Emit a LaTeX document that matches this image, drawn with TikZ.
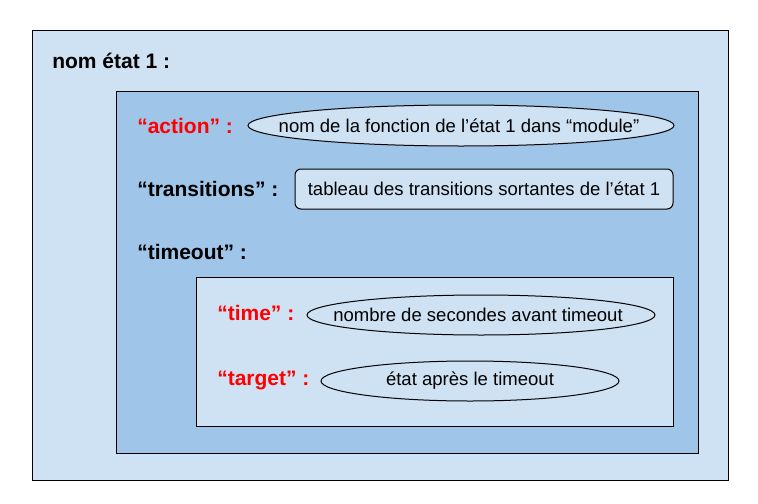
\documentclass[tikz,border=0pt]{standalone}
\usepackage{fontspec}
\setmainfont{Liberation Sans}
\usetikzlibrary{shapes.geometric}
\definecolor{lightb}{HTML}{CFE2F3}
\definecolor{midb}{HTML}{9FC5E8}
\definecolor{redlab}{HTML}{FF0000}
\tikzset{
  box/.style={draw=black, line width=0.75pt, rectangle, inner sep=0pt},
  oval/.style={draw=black, line width=0.75pt, ellipse, fill=lightb, inner sep=0pt},
  rbox/.style={draw=black, line width=0.75pt, rectangle, rounded corners=4.5pt, fill=lightb, inner sep=0pt},
  keylab/.style={anchor=west, inner sep=0pt, font=\fontsize{15.75}{18}\selectfont\bfseries},
  redlab/.style={keylab, text=redlab},
  valtext/.style={inner sep=0pt, font=\fontsize{13.9}{16}\selectfont}
}
\begin{document}
\begin{tikzpicture}[x=0.75pt,y=-0.75pt]
\useasboundingbox (0,0) rectangle (758,504);
\node[box, fill=lightb, minimum width=522pt, minimum height=337.5pt] (outer) at (380,255) {};
\node[box, fill=midb, minimum width=436.5pt, minimum height=271.5pt] (middle) at (407,272) {};
\node[box, fill=lightb, minimum width=357.75pt, minimum height=111.75pt] (inner) at (434.5,351.5) {};
\node[keylab] (nom) at (52,61) {nom état 1 :};
\node[redlab] (actionlab) at (137,126) {“action” :};
\node[keylab] (translab) at (137,189) {“transitions” :};
\node[keylab] (timeoutlab) at (137,252) {“timeout” :};
\node[redlab] (timelab) at (217,313) {“time” :};
\node[redlab] (targetlab) at (217,380) {“target” :};
\node[oval, minimum width=319.5pt, minimum height=30.75pt] (actionval) at (461,125.5) {};
\node[valtext] (actiontxt) at (459,125.5) {nom de la fonction de l’état 1 dans “module”};
\node[rbox, minimum width=283.5pt, minimum height=30pt] (transval) at (484,189) {};
\node[valtext] (transtxt) at (transval.center) {tableau des transitions sortantes de l’état 1};
\node[oval, minimum width=261pt, minimum height=30pt] (timeval) at (481,315) {};
\node[valtext] (timetxt) at (478,315) {nombre de secondes avant timeout};
\node[oval, minimum width=223.5pt, minimum height=30pt] (targetval) at (470,381) {};
\node[valtext] (targettxt) at (targetval.center) {état après le timeout};
\end{tikzpicture}
\end{document}
